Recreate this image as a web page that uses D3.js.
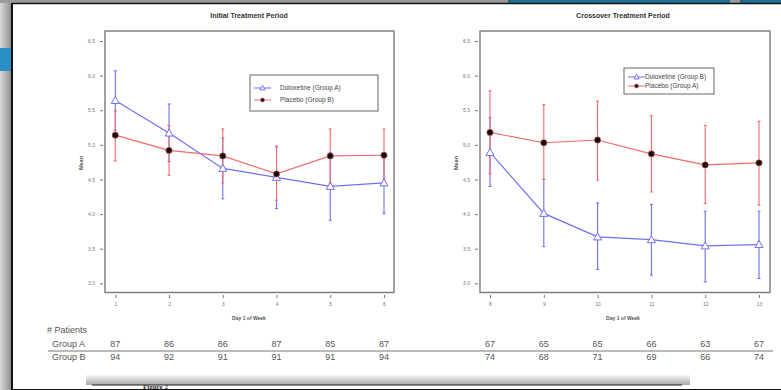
<!DOCTYPE html>
<html>
<head>
<meta charset="utf-8">
<script src="https://cdn.jsdelivr.net/npm/d3@7"></script>
<style>
  body { margin: 0; background: #fff; }
  svg { display: block; font-family: "Liberation Sans", Arial, sans-serif; }
</style>
</head>
<body>
<svg id="chart" width="781" height="390"></svg>
<script>
// weeks
const weeksInitial = [1, 2, 3, 4, 5, 6];
const weeksCross = [8, 9, 10, 11, 12, 13];
const yTicks = [3.0, 3.5, 4.0, 4.5, 5.0, 5.5, 6.0, 6.5];

// initial period - duloxetine (group A)
const dulInitMean = [5.64, 5.17, 4.66, 4.53, 4.40, 4.45];
const dulInitLow  = [5.21, 4.76, 4.22, 4.08, 3.91, 4.01];
const dulInitHigh = [6.07, 5.59, 5.10, 4.98, 4.89, 4.89];
// initial period - placebo (group B)
const plaInitMean = [5.14, 4.92, 4.84, 4.58, 4.84, 4.85];
const plaInitLow  = [4.77, 4.56, 4.45, 4.20, 4.45, 4.47];
const plaInitHigh = [5.49, 5.28, 5.23, 4.97, 5.23, 5.23];

// crossover period - duloxetine (group B)
const dulCrossMean = [4.89, 4.01, 3.67, 3.63, 3.54, 3.56];
const dulCrossLow  = [4.40, 3.53, 3.20, 3.12, 3.02, 3.07];
const dulCrossHigh = [5.39, 4.50, 4.16, 4.14, 4.04, 4.04];
// crossover period - placebo (group A)
const plaCrossMean = [5.18, 5.03, 5.07, 4.87, 4.71, 4.74];
const plaCrossLow  = [4.58, 4.50, 4.49, 4.32, 4.15, 4.13];
const plaCrossHigh = [5.78, 5.58, 5.63, 5.42, 5.28, 5.34];

// # patients table
const nInitA = [87, 86, 86, 87, 85, 87];
const nInitB = [94, 92, 91, 91, 91, 94];
const nCrossA = [67, 65, 65, 66, 63, 67];
const nCrossB = [74, 68, 71, 69, 66, 74];

const blue = "#6f6ff5", red = "#f26a6a";
const svg = d3.select("#chart");
const defs = svg.append("defs");

// ---- slide frame bits (photo of a slide) ----
const grad = defs.append("linearGradient").attr("id", "shade").attr("x1", 0).attr("x2", 1);
grad.append("stop").attr("offset", 0).attr("stop-color", "#d8d8d8");
grad.append("stop").attr("offset", 1).attr("stop-color", "#8a8a8a");
const vgrad = defs.append("linearGradient").attr("id", "vshade").attr("x1", 0).attr("x2", 0).attr("y1", 0).attr("y2", 1);
vgrad.append("stop").attr("offset", 0).attr("stop-color", "#ffffff");
vgrad.append("stop").attr("offset", 1).attr("stop-color", "#a8a8a8");
svg.append("rect").attr("x", 0).attr("y", 0).attr("width", 12).attr("height", 390).attr("fill", "url(#shade)");
svg.append("rect").attr("x", 0).attr("y", 48).attr("width", 12).attr("height", 23).attr("fill", "#2a8fc0");
svg.append("rect").attr("x", 0).attr("y", 0).attr("width", 781).attr("height", 3).attr("fill", "#9a9a9a");
svg.append("rect").attr("x", 508).attr("y", 0).attr("width", 222).attr("height", 4).attr("fill", "#1f6f93");
svg.append("rect").attr("x", 740).attr("y", 0).attr("width", 41).attr("height", 4).attr("fill", "#1f6f93");
svg.append("line").attr("x1", 12).attr("x2", 781).attr("y1", 3.5).attr("y2", 3.5).attr("stroke", "#111").attr("stroke-width", 1.5);
svg.append("line").attr("x1", 12).attr("x2", 12).attr("y1", 3).attr("y2", 390).attr("stroke", "#111").attr("stroke-width", 2);
// bottom "Figure 2" page edge
svg.append("rect").attr("x", 86).attr("y", 374).attr("width", 604).attr("height", 11).attr("fill", "url(#vshade)");
svg.append("rect").attr("x", 92).attr("y", 385).attr("width", 590).attr("height", 5).attr("fill", "#fff");
svg.append("line").attr("x1", 92).attr("x2", 682).attr("y1", 385).attr("y2", 385).attr("stroke", "#222").attr("stroke-width", 1);
svg.append("text").attr("x", 143).attr("y", 388.5).attr("font-family", "Liberation Serif, serif")
  .attr("font-weight", "bold").attr("font-size", 7).attr("fill", "#333").text("Figure 2");
svg.append("line").attr("x1", 12).attr("x2", 781).attr("y1", 389.5).attr("y2", 389.5).attr("stroke", "#111").attr("stroke-width", 1);

const y = d3.scaleLinear().domain([3, 6.5]).range([283.3, 41]);

function panel(o) {
  const x = d3.scaleLinear().domain(d3.extent(o.weeks)).range(o.xr);
  const g = svg.append("g");
  g.append("text").attr("x", o.cx).attr("y", 18).attr("text-anchor", "middle")
    .attr("font-size", 7).attr("font-weight", "bold").attr("fill", "#333").text(o.title);
  g.append("rect").attr("x", o.box[0]).attr("y", 31).attr("width", o.box[1] - o.box[0]).attr("height", 292.5 - 31)
    .attr("fill", "none").attr("stroke", "#7a7a7a").attr("stroke-width", 1.4);

  const ya = g.append("g").attr("transform", `translate(${o.box[0] - 2},0)`)
    .call(d3.axisLeft(y).tickValues(yTicks).tickFormat(d3.format(".1f")).tickSize(3).tickPadding(5));
  ya.select(".domain").remove();
  ya.selectAll("line").attr("stroke", "#777");
  ya.selectAll("text").attr("font-size", 5).attr("fill", "#777");

  const xa = g.append("g").attr("transform", "translate(0,295)")
    .call(d3.axisBottom(x).tickValues(o.weeks).tickFormat(d3.format("d")).tickSize(3).tickPadding(4));
  xa.select(".domain").remove();
  xa.selectAll("line").attr("stroke", "#777");
  xa.selectAll("text").attr("font-size", 5).attr("fill", "#777");

  g.append("text").attr("transform", `translate(${o.box[0] - 22},163) rotate(-90)`).attr("text-anchor", "middle")
    .attr("font-size", 5.5).attr("font-weight", "bold").attr("fill", "#555").text("Mean");
  g.append("text").attr("x", o.cx).attr("y", 320).attr("text-anchor", "middle")
    .attr("font-size", 5).attr("font-weight", "bold").attr("fill", "#555").text("Day 1 of Week");

  const line = d3.line().x((d, i) => x(o.weeks[i])).y(d => y(d));
  o.series.forEach(s => {
    const eb = g.append("g").attr("stroke", s.color).attr("stroke-width", 1.1);
    o.weeks.forEach((w, i) => {
      eb.append("line").attr("x1", x(w)).attr("x2", x(w)).attr("y1", y(s.low[i])).attr("y2", y(s.high[i]));
      [s.low[i], s.high[i]].forEach(v => eb.append("line")
        .attr("x1", x(w) - 1.5).attr("x2", x(w) + 1.5).attr("y1", y(v)).attr("y2", y(v)));
    });
    g.append("path").datum(s.mean).attr("d", line).attr("fill", "none").attr("stroke", s.color).attr("stroke-width", 1.2);
  });
  o.series.forEach(s => {
    s.mean.forEach((v, i) => marker(g, x(o.weeks[i]), y(v), s));
  });

  // legend
  const L = o.legend;
  g.append("rect").attr("x", L[0]).attr("y", L[1]).attr("width", L[2]).attr("height", L[3])
    .attr("fill", "#fff").attr("stroke", "#666").attr("stroke-width", 1);
  o.series.forEach((s, i) => {
    const ly = L[1] + L[4] + i * L[5];
    g.append("line").attr("x1", L[0] + 4).attr("x2", L[0] + 21).attr("y1", ly).attr("y2", ly)
      .attr("stroke", s.color).attr("stroke-width", 1);
    marker(g, L[0] + 12.5, ly, s, 0.65);
    g.append("text").attr("x", L[0] + L[6]).attr("y", ly + 2).attr("font-size", 6.5).attr("fill", "#444").text(s.name);
  });

  // patients table
  const tb = g.append("g").attr("font-size", 9).attr("fill", "#555").attr("text-anchor", "middle");
  o.weeks.forEach((w, i) => {
    tb.append("text").attr("x", x(w)).attr("y", 347).text(o.nA[i]);
    tb.append("text").attr("x", x(w)).attr("y", 360).text(o.nB[i]);
  });
}

function marker(g, cx, cy, s, k = 1) {
  if (s.shape === "tri") {
    const r = 4 * k;
    g.append("path").attr("d", `M${cx},${cy - r}L${cx + r},${cy + r * 0.75}L${cx - r},${cy + r * 0.75}Z`)
      .attr("fill", "#fff").attr("stroke", s.color).attr("stroke-width", 1);
  } else {
    g.append("circle").attr("cx", cx).attr("cy", cy).attr("r", 3.2 * k).attr("fill", "#111")
      .attr("stroke", s.color).attr("stroke-width", 0.6);
  }
}

panel({
  weeks: weeksInitial, xr: [115.3, 384], box: [105, 394], cx: 249,
  title: "Initial Treatment Period",
  legend: [250, 75, 128, 36, 13, 12, 30],
  nA: nInitA, nB: nInitB,
  series: [
    { name: "Duloxetine (Group A)", color: blue, shape: "tri", mean: dulInitMean, low: dulInitLow, high: dulInitHigh },
    { name: "Placebo (Group B)", color: red, shape: "dot", mean: plaInitMean, low: plaInitLow, high: plaInitHigh }
  ]
});
panel({
  weeks: weeksCross, xr: [490, 759], box: [480, 770], cx: 623,
  title: "Crossover Treatment Period",
  legend: [624, 68, 90, 26, 9, 9, 21],
  nA: nCrossA, nB: nCrossB,
  series: [
    { name: "Duloxetine (Group B)", color: blue, shape: "tri", mean: dulCrossMean, low: dulCrossLow, high: dulCrossHigh },
    { name: "Placebo (Group A)", color: red, shape: "dot", mean: plaCrossMean, low: plaCrossLow, high: plaCrossHigh }
  ]
});

// row labels for table
const rl = svg.append("g").attr("font-size", 9).attr("fill", "#555");
rl.append("text").attr("x", 47).attr("y", 333).text("# Patients");
rl.append("text").attr("x", 52).attr("y", 347).text("Group A");
rl.append("text").attr("x", 52).attr("y", 360).text("Group B");
svg.append("line").attr("x1", 48).attr("x2", 773).attr("y1", 351).attr("y2", 351).attr("stroke", "#777").attr("stroke-width", 1.2);
</script>
</body>
</html>
